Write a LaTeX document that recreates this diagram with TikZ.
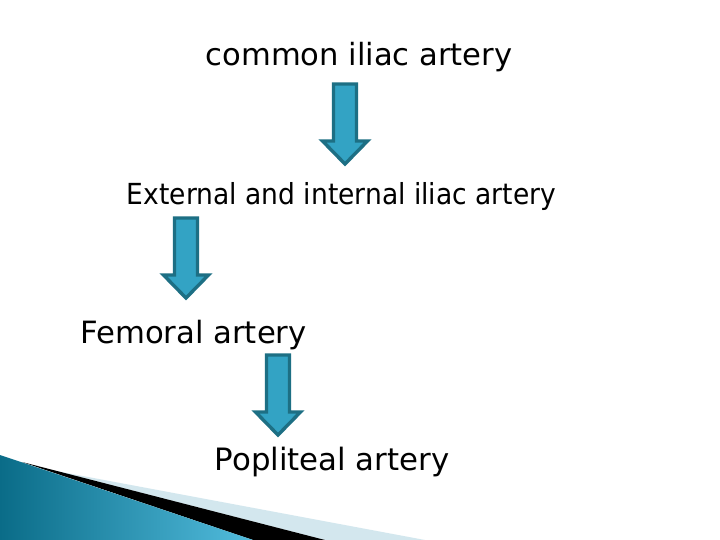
\documentclass[tikz,border=0pt]{standalone}
\usepackage{fontspec}
\setmainfont{DejaVu Sans}
\definecolor{arrowfill}{HTML}{33A3C4}
\definecolor{arrowline}{HTML}{1D6F84}
\definecolor{wedgedark}{HTML}{0A6C88}
\definecolor{wedgelight}{HTML}{52BCDD}
\definecolor{stripe}{HTML}{D3E7EE}
\tikzset{
  lbl/.style={inner sep=0pt, anchor=base, text=black},
  bigarrow/.style={draw=arrowline, fill=arrowfill, line width=3.4pt, line join=miter},
}
\newcommand{\downarr}[2]{%
  \draw[bigarrow] (#1-11.5,#2) -- (#1+11.5,#2) -- (#1+11.5,#2+57) -- (#1+22.5,#2+57)
    -- (#1,#2+80) -- (#1-22.5,#2+57) -- (#1-11.5,#2+57) -- cycle;}
\begin{document}
\begin{tikzpicture}[x=1pt,y=-1pt]
\useasboundingbox[fill=white] (0,0) rectangle (720,540);
% bottom decoration
\fill[stripe] (56,471) -- (425,540) -- (325,540) -- cycle;
\fill[black] (22,462) -- (325,540) -- (253,540) -- cycle;
\shade[left color=wedgedark, right color=wedgelight] (0,455) -- (253,540) -- (0,540) -- cycle;
% texts
\node[lbl, font=\fontsize{30.6}{36}\selectfont] (common) at (359,66) {common iliac artery};
\node[lbl, font=\fontsize{29}{34}\selectfont] (extint) at (341.5,205) {\scalebox{0.915}[1]{External and internal iliac artery}};
\node[lbl, font=\fontsize{30.7}{36}\selectfont] (femoral) at (193.5,343) {Femoral artery};
\node[lbl, font=\fontsize{30.8}{36}\selectfont] (popliteal) at (332,470) {Popliteal artery};
% arrows
\downarr{345}{84}
\downarr{186}{218}
\downarr{278}{355}
\end{tikzpicture}
\end{document}
